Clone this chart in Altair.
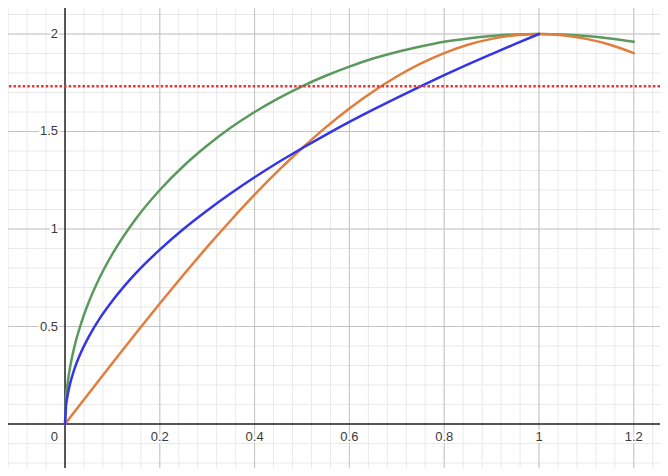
import altair as alt
import pandas as pd

# Curve samples
green_x = [0, 0.002, 0.005, 0.01, 0.02, 0.035, 0.05, 0.075, 0.1, 0.15, 0.2, 0.25, 0.3, 0.35, 0.4,
           0.45, 0.5, 0.55, 0.6, 0.65, 0.7, 0.75, 0.8, 0.85, 0.9, 0.95, 1.0, 1.05, 1.1, 1.15, 1.2]
green_y = [0, 0.126, 0.200, 0.282, 0.398, 0.524, 0.624, 0.760, 0.872, 1.054, 1.200, 1.323, 1.428,
           1.520, 1.600, 1.670, 1.732, 1.786, 1.833, 1.874, 1.908, 1.936, 1.960, 1.977, 1.990,
           1.998, 2.000, 1.998, 1.990, 1.977, 1.960]

orange_x = [0, 0.05, 0.1, 0.15, 0.2, 0.25, 0.3, 0.35, 0.4, 0.45, 0.5, 0.55, 0.6, 0.65, 0.7, 0.75,
            0.8, 0.85, 0.9, 0.95, 1.0, 1.05, 1.1, 1.15, 1.2]
orange_y = [0, 0.157, 0.313, 0.467, 0.618, 0.765, 0.908, 1.045, 1.176, 1.299, 1.414, 1.521, 1.618,
            1.705, 1.782, 1.848, 1.902, 1.945, 1.975, 1.994, 2.000, 1.994, 1.975, 1.945, 1.902]

blue_x = [0, 0.002, 0.005, 0.01, 0.02, 0.035, 0.05, 0.075, 0.1, 0.15, 0.2, 0.25, 0.3, 0.35, 0.4,
          0.45, 0.5, 0.55, 0.6, 0.65, 0.7, 0.75, 0.8, 0.85, 0.9, 0.95, 1.0]
blue_y = [0, 0.089, 0.141, 0.200, 0.283, 0.374, 0.447, 0.548, 0.632, 0.775, 0.894, 1.000, 1.095,
          1.183, 1.265, 1.342, 1.414, 1.483, 1.549, 1.612, 1.673, 1.732, 1.789, 1.844, 1.897,
          1.949, 2.000]

red_level = [1.732]

x_major = [0.2, 0.4, 0.6, 0.8, 1.0, 1.2]
x_labels = ["0.2", "0.4", "0.6", "0.8", "1", "1.2"]
y_major = [0.5, 1.0, 1.5, 2.0]
y_labels = ["0.5", "1", "1.5", "2"]
x_minor = [round(-0.12 + 0.04 * i, 2) for i in range(35)]
y_minor = [round(-0.2 + 0.1 * i, 1) for i in range(24)]

XD = [-0.1203, 1.2553]
YD = [-0.2256, 2.1333]
xs = alt.Scale(domain=XD, nice=False, zero=False)
ys = alt.Scale(domain=YD, nice=False, zero=False)

def X(f):
    return alt.X(f, type="quantitative", scale=xs, axis=None)

def Y(f):
    return alt.Y(f, type="quantitative", scale=ys, axis=None)

minor_v = alt.Chart(pd.DataFrame({"x": x_minor})).mark_rule(color="#e9e9e9", strokeWidth=1).encode(x=X("x"))
minor_h = alt.Chart(pd.DataFrame({"y": y_minor})).mark_rule(color="#e9e9e9", strokeWidth=1).encode(y=Y("y"))
major_v = alt.Chart(pd.DataFrame({"x": x_major})).mark_rule(color="#c4c4c4", strokeWidth=1).encode(x=X("x"))
major_h = alt.Chart(pd.DataFrame({"y": y_major})).mark_rule(color="#c4c4c4", strokeWidth=1).encode(y=Y("y"))
axis_v = alt.Chart(pd.DataFrame({"x": [0]})).mark_rule(color="#222222", strokeWidth=1.5).encode(x=X("x"))
axis_h = alt.Chart(pd.DataFrame({"y": [0]})).mark_rule(color="#222222", strokeWidth=1.5).encode(y=Y("y"))

xl = pd.DataFrame({"x": x_major, "y": [0] * len(x_major), "t": x_labels})
yl = pd.DataFrame({"x": [0] * len(y_major), "y": y_major, "t": y_labels})
zl = pd.DataFrame({"x": [0], "y": [0], "t": ["0"]})

font = "Liberation Sans"
fs = 13

def labels(df, **kw):
    halo = alt.Chart(df).mark_text(font=font, fontSize=fs, stroke="white", strokeWidth=4,
                                   fill="white", **kw).encode(x=X("x"), y=Y("y"), text="t:N")
    txt = alt.Chart(df).mark_text(font=font, fontSize=fs, fill="#3a3a3a", **kw).encode(
        x=X("x"), y=Y("y"), text="t:N")
    return halo + txt

x_lab = labels(xl, align="center", baseline="alphabetic", dy=17)
y_lab = labels(yl, align="right", baseline="middle", dx=-7)
z_lab = labels(zl, align="right", baseline="alphabetic", dx=-7, dy=17)

def curve(xv, yv, color):
    df = pd.DataFrame({"x": xv, "y": yv})
    return alt.Chart(df).mark_line(color=color, strokeWidth=2.5, interpolate="monotone",
                                   strokeCap="round").encode(x=X("x"), y=Y("y"), order="x:Q")

green = curve(green_x, green_y, "#5b9a5e")
orange = curve(orange_x, orange_y, "#e27d3c")
blue = curve(blue_x, blue_y, "#3434e8")

red = alt.Chart(pd.DataFrame({"y": red_level})).mark_rule(
    color="#e8343a", strokeWidth=2.5, strokeDash=[2.5, 2.1]).encode(y=Y("y"))

chart = alt.layer(
    minor_v, minor_h, major_v, major_h, axis_v, axis_h,
    x_lab, y_lab, z_lab,
    green, orange, blue, red,
).properties(
    width=652, height=460, padding=0, autosize="none", background="white"
).configure_view(stroke=None)

chart.save("out.html", embed_options={"renderer": "svg", "actions": False})
